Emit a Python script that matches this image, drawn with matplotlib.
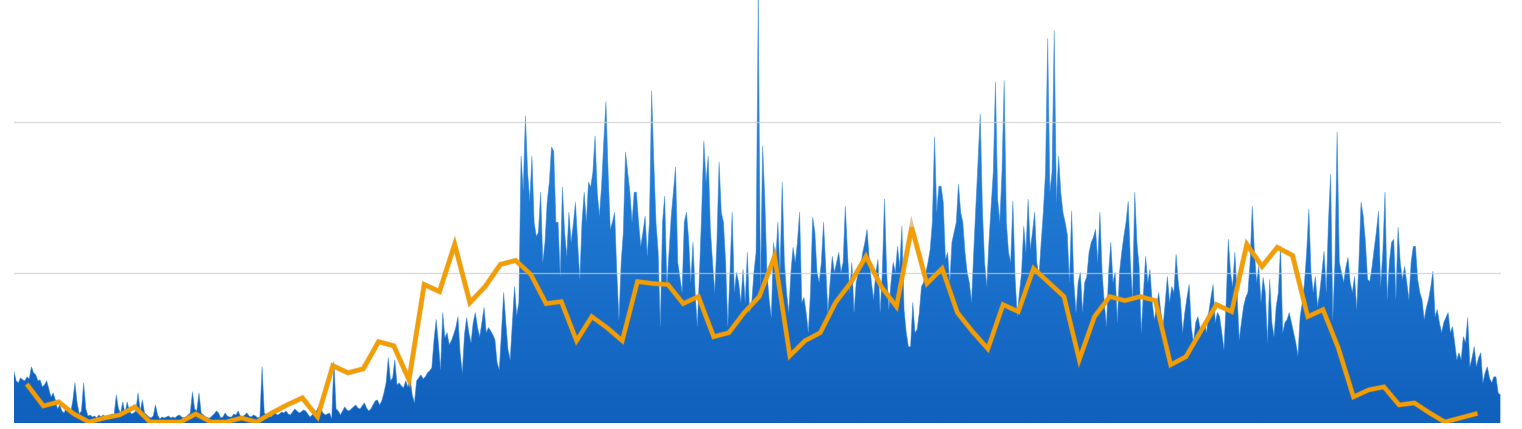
import numpy as np
import matplotlib
matplotlib.use("Agg")
import matplotlib.pyplot as plt
from matplotlib.colors import LinearSegmentedColormap
import matplotlib.patheffects as pe

# Daily values (area series)
daily_values = [
    51, 42, 40, 45, 43, 42, 46, 44, 56, 50,
    48, 42, 43, 36, 38, 42, 34, 26, 30, 23,
    14, 18, 12, 10, 15, 12, 10, 22, 40, 20,
    9, 12, 40, 14, 7, 8, 6, 7, 5, 8,
    6, 8, 5, 6, 7, 9, 8, 28, 14, 10,
    21, 9, 21, 12, 9, 10, 12, 30, 12, 23,
    10, 8, 6, 5, 7, 18, 8, 4, 6, 5,
    6, 7, 5, 6, 5, 7, 8, 6, 5, 6,
    8, 10, 31, 14, 12, 30, 10, 8, 6, 5,
    5, 7, 9, 12, 10, 5, 6, 10, 7, 6,
    6, 9, 8, 12, 7, 6, 8, 10, 7, 6,
    8, 7, 5, 6, 56, 10, 8, 7, 6, 8,
    10, 8, 9, 11, 10, 12, 9, 8, 11, 14,
    12, 10, 11, 13, 12, 9, 6, 8, 10, 12,
    16, 14, 10, 8, 9, 10, 4, 61, 14, 12,
    8, 12, 16, 13, 12, 14, 16, 18, 15, 14,
    17, 20, 15, 12, 14, 18, 22, 23, 18, 22,
    30, 40, 65, 42, 45, 63, 38, 40, 37, 35,
    42, 36, 45, 28, 20, 42, 45, 48, 44, 46,
    50, 52, 55, 83, 103, 80, 53, 110, 85, 90,
    78, 82, 88, 95, 106, 70, 50, 88, 105, 90,
    80, 100, 110, 95, 86, 100, 115, 90, 95, 92,
    88, 83, 60, 53, 90, 130, 100, 73, 63, 100,
    136, 107, 120, 266, 231, 306, 250, 221, 266, 200,
    186, 190, 230, 160, 180, 220, 240, 275, 271, 200,
    200, 146, 235, 190, 166, 210, 180, 198, 220, 180,
    143, 200, 230, 200, 240, 235, 250, 286, 230, 206,
    236, 280, 320, 250, 193, 200, 210, 150, 103, 160,
    190, 270, 250, 230, 200, 230, 230, 200, 176, 190,
    206, 166, 200, 331, 260, 200, 170, 96, 200, 226,
    136, 170, 206, 230, 255, 160, 145, 130, 200, 210,
    183, 140, 180, 130, 96, 150, 210, 281, 240, 266,
    193, 160, 130, 180, 260, 210, 200, 160, 96, 150,
    210, 130, 150, 140, 120, 153, 120, 170, 110, 120,
    150, 170, 423, 130, 276, 223, 150, 123, 105, 180,
    160, 200, 150, 240, 160, 130, 110, 150, 175, 160,
    180, 210, 120, 125, 110, 90, 130, 205, 190, 150,
    140, 160, 200, 155, 110, 140, 166, 150, 160, 170,
    150, 160, 216, 170, 130, 160, 110, 140, 150, 155,
    170, 180, 193, 163, 140, 123, 150, 163, 110, 150,
    223, 150, 113, 140, 160, 150, 176, 155, 196, 113,
    90, 76, 76, 120, 90, 93, 110, 136, 140, 150,
    160, 173, 200, 285, 210, 236, 236, 220, 163, 170,
    140, 180, 190, 200, 238, 210, 200, 170, 150, 140,
    120, 170, 216, 260, 308, 213, 160, 136, 180, 216,
    250, 340, 223, 200, 250, 341, 200, 170, 160, 221,
    146, 106, 130, 150, 196, 170, 223, 173, 190, 210,
    160, 146, 180, 210, 250, 383, 230, 250, 391, 220,
    266, 230, 210, 200, 188, 140, 211, 140, 110, 140,
    150, 110, 140, 146, 170, 180, 185, 193, 160, 210,
    150, 120, 96, 150, 180, 140, 150, 100, 150, 170,
    186, 200, 221, 160, 123, 230, 180, 156, 90, 130,
    166, 140, 153, 120, 103, 115, 130, 110, 96, 120,
    146, 120, 136, 130, 168, 140, 123, 90, 110, 125,
    138, 95, 80, 100, 106, 95, 90, 100, 90, 110,
    125, 138, 100, 110, 106, 90, 73, 120, 183, 150,
    136, 170, 130, 83, 100, 116, 125, 130, 160, 216,
    170, 140, 156, 120, 145, 130, 80, 143, 100, 86,
    116, 130, 176, 90, 100, 103, 110, 100, 90, 80,
    67, 106, 120, 140, 170, 213, 150, 130, 146, 116,
    130, 150, 171, 130, 200, 248, 103, 160, 290, 160,
    150, 140, 155, 165, 140, 130, 146, 113, 160, 220,
    206, 180, 143, 141, 155, 173, 190, 211, 136, 170,
    230, 123, 160, 180, 183, 123, 195, 160, 143, 156,
    140, 123, 160, 176, 176, 143, 130, 123, 103, 115,
    123, 135, 151, 106, 113, 100, 90, 100, 105, 110,
    90, 96, 80, 63, 70, 63, 86, 80, 105, 56,
    65, 76, 56, 65, 70, 40, 50, 56, 45, 40,
    46, 46, 30, 28,
]

# Weekly values (orange line)
weekly_values = [
    37, 17, 21, 9, 1, 5, 8, 16, 1, 1,
    1, 9, 1, 1, 5, 1, 10, 18, 25, 6,
    57, 50, 54, 81, 77, 43, 138, 131, 178, 120,
    136, 158, 162, 148, 119, 121, 82, 106, 95, 82,
    141, 139, 138, 119, 126, 86, 90, 110, 126, 166,
    67, 82, 90, 120, 140, 166, 136, 116, 195, 139,
    154, 110, 91, 74, 118, 111, 154, 140, 126, 63,
    106, 126, 122, 126, 122, 58, 66, 92, 118, 111,
    178, 156, 175, 167, 106, 113, 75, 26, 33, 36,
    18, 20, 10, 1, 5, 9,
]

days = np.arange(len(daily_values))
weeks = np.arange(len(weekly_values))
week_x = weeks * 7 + 6.5

W, H = 1522, 429
fig = plt.figure(figsize=(W / 100, H / 100), dpi=100)
fig.patch.set_facecolor("white")
left, right = 14 / W, 1501 / W
bottom, top = (H - 423) / H, 1.0
ax = fig.add_axes([left, bottom, right - left, top - bottom])
ax.set_facecolor("white")

ymax = 423 * 150 / 150.5
ax.set_xlim(0, len(daily_values) - 1 + 0.3)
ax.set_ylim(0, ymax)

# gradient area
cmap = LinearSegmentedColormap.from_list(
    "blues", [(0.0, "#1060BC"), (0.5, "#1F78D2"), (1.0, "#3A92E6")])
grad = np.linspace(0, 1, 256).reshape(-1, 1)
im = ax.imshow(grad, extent=[0, len(daily_values) - 1, 0, ymax], origin="lower",
               aspect="auto", cmap=cmap, zorder=1)
poly = ax.fill_between(days, 0, daily_values, color="none", lw=0)
clip = poly.get_paths()[0]
im.set_clip_path(clip, transform=ax.transData)
ax.plot(days, daily_values, color="#2F86DA", lw=0.6, alpha=0.6, zorder=2)

# gridlines
for gy in (150, 300):
    ax.axhline(gy, color="#CCCCCC", lw=1.0, alpha=0.7, zorder=3)

# orange line
ax.plot(week_x, weekly_values, color="#F49D00", lw=3.0, zorder=4,
        solid_joinstyle="miter",
        path_effects=[pe.Stroke(linewidth=3.8, foreground="#C98A2A", alpha=0.5), pe.Normal()])

for s in ax.spines.values():
    s.set_visible(False)
ax.set_xticks([])
ax.set_yticks([])

fig.savefig("out.png", dpi=100, facecolor="white")
